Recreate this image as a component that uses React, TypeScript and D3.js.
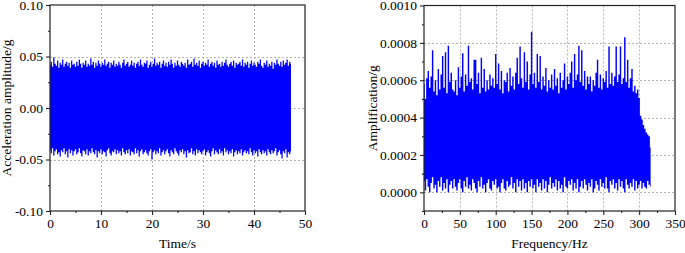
import { useEffect, useRef } from 'react';
import * as d3 from 'd3';

// ---- left panel: acceleration time history (envelope per 0.25 s, in mg) ----
const timeStep = 0.25;
const accUpper = [
  42, 45, 40, 49, 43, 41, 46, 39, 44, 42,
  47, 40, 43, 45, 41, 44, 39, 46, 42, 43,
  40, 45, 41, 47, 43, 39, 44, 42, 46, 40,
  43, 41, 48, 42, 45, 39, 44, 41, 46, 43,
  40, 44, 42, 47, 41, 43, 45, 39, 44, 42,
  46, 40, 43, 41, 45, 42, 39, 44, 47, 41,
  43, 45, 40, 42, 46, 41, 44, 39, 43, 45,
  41, 47, 42, 40, 44, 43, 46, 39, 42, 45,
  40, 43, 48, 41, 44, 42, 45, 39, 43, 46,
  41, 44, 40, 45, 42, 47, 43, 39, 44, 41,
  46, 42, 40, 45, 43, 41, 44, 39, 47, 42,
  43, 45, 40, 48, 42, 44, 41, 46, 39, 43,
  45, 41, 44, 42, 47, 40, 43, 45, 41, 44,
  39, 46, 42, 43, 40, 45, 41, 44, 47, 42,
  40, 43, 45, 41, 46, 39, 44, 42, 43, 45,
  41, 47, 40, 44, 42, 45, 39, 43, 46, 41,
  44, 42, 40, 45, 43, 47, 41, 39, 44, 42,
  46, 40, 43, 41, 45, 38, 44, 42, 47, 43,
  41, 45, 40, 46, 42, 44, 47, 41, 45, 43,
];
const accLower = [
  -41, -44, -39, -46, -42, -40, -45, -43, -47, -41,
  -43, -39, -45, -42, -48, -40, -44, -41, -46, -42,
  -40, -45, -43, -39, -44, -47, -41, -42, -45, -40,
  -46, -42, -44, -39, -43, -45, -41, -48, -42, -44,
  -40, -45, -42, -43, -47, -41, -39, -44, -46, -42,
  -43, -40, -45, -41, -44, -42, -46, -39, -43, -45,
  -41, -44, -40, -46, -42, -43, -45, -39, -44, -41,
  -47, -42, -40, -45, -43, -41, -44, -46, -42, -40,
  -50, -43, -41, -45, -42, -44, -39, -46, -43, -41,
  -45, -42, -40, -44, -47, -41, -43, -45, -39, -42,
  -44, -46, -41, -43, -40, -45, -42, -48, -41, -44,
  -43, -39, -45, -42, -46, -40, -44, -41, -43, -45,
  -42, -40, -46, -43, -41, -44, -47, -42, -39, -45,
  -41, -43, -45, -40, -44, -42, -46, -39, -43, -41,
  -45, -42, -44, -40, -47, -43, -41, -45, -42, -44,
  -40, -46, -43, -41, -44, -42, -45, -39, -43, -46,
  -41, -44, -42, -47, -40, -43, -45, -41, -44, -42,
  -46, -40, -43, -45, -41, -44, -42, -39, -46, -43,
  -41, -45, -49, -42, -44, -40, -48, -43, -45, -42,
];
const timeTicks = [0, 10, 20, 30, 40, 50];
const timeMinor = [5, 15, 25, 35, 45];
const accTicks = [-100, -50, 0, 50, 100];
const accMinor = [-75, -25, 25, 75];
const accTickLabels = ['-0.10', '-0.05', '0.00', '0.05', '0.10'];

// ---- right panel: amplitude spectrum (envelope per 2 Hz, in 1e-4 g) ----
const freqStep = 2;
const ampPeak = [
  5.8, 5.0, 6.1, 6.5, 5.6, 6.2, 7.6, 5.4, 6.0, 5.2,
  6.6, 5.5, 6.3, 7.3, 5.6, 7.5, 5.3, 7.85, 5.9, 6.4,
  5.5, 5.4, 6.0, 5.2, 6.7, 5.6, 6.2, 7.45, 5.4, 6.3,
  5.7, 7.85, 5.9, 6.1, 5.5, 7.1, 7.1, 5.8, 6.4, 5.3,
  7.2, 5.6, 6.6, 5.4, 6.0, 5.5, 6.3, 5.7, 6.1, 5.6,
  7.4, 5.8, 6.9, 5.5, 6.5, 5.3, 6.0, 5.9, 6.4, 5.4,
  6.65, 5.7, 6.2, 5.5, 6.4, 7.2, 5.8, 7.8, 6.1, 5.6,
  7.5, 5.9, 7.0, 5.5, 6.3, 8.6, 5.8, 6.4, 5.6, 7.4,
  5.9, 7.3, 5.5, 6.2, 5.7, 6.65, 5.4, 6.0, 5.6, 6.3,
  5.5, 6.6, 5.7, 6.1, 5.3, 6.4, 5.6, 6.0, 6.9, 5.5,
  6.2, 5.8, 6.4, 7.0, 5.6, 7.4, 6.0, 6.3, 7.85, 5.9,
  7.6, 5.7, 6.5, 5.5, 6.2, 5.8, 6.2, 5.4, 6.0, 5.7,
  6.4, 7.1, 5.6, 6.3, 5.5, 6.1, 5.9, 6.5, 5.6, 7.8,
  5.8, 6.4, 5.7, 6.2, 7.8, 5.9, 6.3, 7.8, 5.8, 6.1,
  8.3, 5.9, 7.1, 5.6, 6.1, 6.6, 5.4, 5.7, 5.3, 5.5,
  5.05, 4.1, 3.9, 3.6, 3.4, 3.2, 3.1, 3.0, 2.4,
];
const ampTrough = [
  0.6, 0.1, 0.7, 0.3, 0.0, 0.5, 0.8, 0.2, 0.4, 0.0,
  0.6, 0.3, 0.8, 0.1, 0.5, 0.2, 0.7, 0.0, 0.4, 0.6,
  0.2, 0.7, 0.3, 0.1, 0.5, 0.7, 0.2, 0.0, 0.6, 0.3,
  0.8, 0.2, 0.4, 0.1, 0.7, 0.5, 0.2, 0.0, 0.6, 0.3,
  0.8, 0.2, 0.4, 0.0, 0.5, 0.7, 0.2, 0.1, 0.6, 0.4,
  0.7, 0.2, 0.3, 0.0, 0.5, 0.7, 0.2, 0.1, 0.6, 0.3,
  0.4, 0.8, 0.2, 0.5, 0.0, 0.7, 0.3, 0.6, 0.1, 0.7,
  0.2, 0.5, 0.0, 0.6, 0.3, 0.7, 0.2, 0.4, 0.0, 0.7,
  0.3, 0.5, 0.1, 0.7, 0.2, 0.6, 0.0, 0.4, 0.8, 0.2,
  0.5, 0.3, 0.7, 0.1, 0.6, 0.2, 0.4, 0.0, 0.8, 0.3,
  0.2, 0.6, 0.4, 0.7, 0.1, 0.5, 0.2, 0.7, 0.0, 0.3,
  0.6, 0.2, 0.7, 0.4, 0.1, 0.5, 0.3, 0.7, 0.0, 0.2,
  0.6, 0.4, 0.1, 0.7, 0.3, 0.5, 0.2, 0.8, 0.2, 0.0,
  0.6, 0.4, 0.7, 0.2, 0.5, 0.1, 0.7, 0.3, 0.6, 0.2,
  0.0, 0.7, 0.4, 0.2, 0.5, 0.3, 0.7, 0.1, 0.6, 0.2,
  0.4, 0.6, 0.2, 0.5, 0.3, 0.2, 0.6, 0.4, 0.3,
];
const freqTicks = [0, 50, 100, 150, 200, 250, 300, 350];
const freqMinor = [25, 75, 125, 175, 225, 275, 325];
const ampTicks = [0, 2, 4, 6, 8, 10];
const ampMinor = [-1, 1, 3, 5, 7, 9];
const ampTickLabels = ['0.0000', '0.0002', '0.0004', '0.0006', '0.0008', '0.0010'];

const FONT = "'Liberation Serif', 'Times New Roman', serif";

function drawPanel(root, cfg) {
  const { left, right, top, bottom, xDomain, yDomain, upper, lower, step,
    xTicks, xMinor, yTicks, yMinor, yLabels, xGrid, yGrid, xTitle, yTitle, yTitleX } = cfg;

  const x = d3.scaleLinear().domain(xDomain).range([left, right]);
  const y = d3.scaleLinear().domain(yDomain).range([bottom, top]);
  const g = root.append('g');

  // dotted grid
  const grid = g.append('g')
    .attr('stroke', '#b4b4b4')
    .attr('stroke-width', 1)
    .attr('stroke-dasharray', '2,2');
  xGrid.forEach(v => grid.append('line')
    .attr('x1', Math.round(x(v)) + 0.5).attr('x2', Math.round(x(v)) + 0.5)
    .attr('y1', top).attr('y2', bottom));
  yGrid.forEach(v => grid.append('line')
    .attr('x1', left).attr('x2', right)
    .attr('y1', Math.round(y(v)) + 0.5).attr('y2', Math.round(y(v)) + 0.5));

  // min/max envelope of the dense signal
  const area = d3.area()
    .x((d, i) => x(i * step))
    .y0((d, i) => y(lower[i]))
    .y1(d => y(d))
    .curve(d3.curveStep);
  g.append('path')
    .datum(upper)
    .attr('d', area)
    .attr('fill', '#0000ff');

  // frame
  g.append('rect')
    .attr('x', left).attr('y', top)
    .attr('width', right - left).attr('height', bottom - top)
    .attr('fill', 'none')
    .attr('stroke', '#222')
    .attr('stroke-width', 1.2);

  // axes
  const xAxis = g.append('g')
    .attr('transform', `translate(0,${bottom})`)
    .call(d3.axisBottom(x).tickValues(xTicks).tickSize(4).tickSizeOuter(0).tickFormat(d3.format('d')));
  g.append('g')
    .attr('transform', `translate(0,${bottom})`)
    .call(d3.axisBottom(x).tickValues(xMinor).tickSize(2).tickSizeOuter(0).tickFormat(() => ''));
  const yAxis = g.append('g')
    .attr('transform', `translate(${left},0)`)
    .call(d3.axisLeft(y).tickValues(yTicks).tickSize(4).tickSizeOuter(0).tickFormat((d, i) => yLabels[i]));
  g.append('g')
    .attr('transform', `translate(${left},0)`)
    .call(d3.axisLeft(y).tickValues(yMinor).tickSize(2).tickSizeOuter(0).tickFormat(() => ''));

  g.selectAll('.domain').remove();
  g.selectAll('.tick line').attr('stroke', '#222').attr('stroke-width', 1.1);
  [xAxis, yAxis].forEach(a => a.selectAll('text')
    .attr('font-family', FONT)
    .attr('font-size', 13.5)
    .attr('fill', '#000'));

  // titles
  g.append('text')
    .attr('x', (left + right) / 2)
    .attr('y', 248)
    .attr('text-anchor', 'middle')
    .attr('font-family', FONT)
    .attr('font-size', 13.5)
    .text(xTitle);
  g.append('text')
    .attr('transform', `translate(${yTitleX},${(top + bottom) / 2}) rotate(-90)`)
    .attr('text-anchor', 'middle')
    .attr('font-family', FONT)
    .attr('font-size', 13.5)
    .text(yTitle);
}

export default function App() {
  const svgRef = useRef(null);

  useEffect(() => {
    const svg = d3.select(svgRef.current);
    svg.selectAll('*').remove();

    drawPanel(svg, {
      left: 50, right: 305, top: 5, bottom: 211,
      xDomain: [0, 50], yDomain: [-100, 100],
      upper: accUpper, lower: accLower, step: timeStep,
      xTicks: timeTicks, xMinor: timeMinor,
      yTicks: accTicks, yMinor: accMinor, yLabels: accTickLabels,
      xGrid: [10, 20, 30, 40], yGrid: [-50, 0, 50],
      xTitle: 'Time/s', yTitle: 'Acceleration amplitude/g', yTitleX: 11,
    });

    drawPanel(svg, {
      left: 424, right: 675, top: 5.5, bottom: 211,
      xDomain: [0, 350], yDomain: [-1, 10],
      upper: ampPeak, lower: ampTrough, step: freqStep,
      xTicks: freqTicks, xMinor: freqMinor,
      yTicks: ampTicks, yMinor: ampMinor, yLabels: ampTickLabels,
      xGrid: [50, 100, 150, 200, 250, 300], yGrid: [0, 2, 4, 6, 8],
      xTitle: 'Frequency/Hz', yTitle: 'Amplification/g', yTitleX: 377,
    });
  }, []);

  return (
    <svg
      ref={svgRef}
      width={685}
      height={253}
      style={{ position: 'absolute', left: 0, top: 0, background: '#fff' }}
    />
  );
}
